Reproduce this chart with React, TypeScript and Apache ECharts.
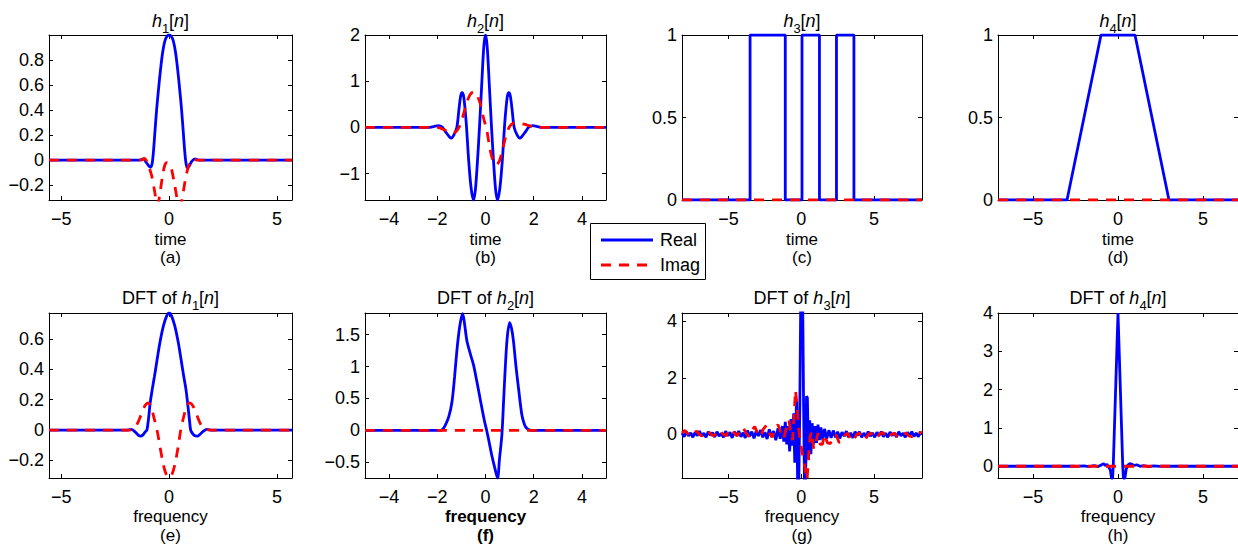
import React, { useEffect, useRef } from "react";
import * as echarts from "echarts";

const FONT = "'Liberation Sans', Arial, Helvetica, sans-serif";
const BLUE = "#0000ff";
const RED = "#ff0000";

// ---------- (a) h1[n] ----------
const h1Re = [[-5.57,0],[-1.4,0],[-1.2,0.01],[-1.05,-0.02],[-0.92,-0.05],[-0.85,-0.055],[-0.78,-0.02],[-0.72,0.08],[-0.66,0.22],[-0.58,0.4],[-0.5,0.55],[-0.4,0.72],[-0.3,0.86],[-0.2,0.95],[-0.1,0.99],[0,1.0],[0.1,0.99],[0.2,0.95],[0.3,0.86],[0.4,0.72],[0.5,0.55],[0.58,0.4],[0.66,0.22],[0.72,0.08],[0.78,-0.02],[0.85,-0.062],[0.92,-0.05],[1.05,-0.01],[1.2,0.01],[1.4,0],[5.7,0]];
const h1Im = [[-5.57,0],[-1.3,0],[-1.15,0.015],[-1.0,-0.02],[-0.9,-0.07],[-0.8,-0.13],[-0.66,-0.26],[-0.56,-0.36],[-0.5,-0.34],[-0.42,-0.26],[-0.3,-0.12],[-0.2,-0.04],[-0.1,-0.02],[0,-0.03],[0.11,-0.07],[0.27,-0.21],[0.4,-0.33],[0.5,-0.37],[0.58,-0.33],[0.66,-0.25],[0.75,-0.16],[0.85,-0.08],[1.0,-0.01],[1.15,0.01],[1.3,0],[5.7,0]];

// ---------- (b) h2[n] ----------
const h2Re = [[-5,0],[-2.35,0],[-2.15,0.02],[-1.95,0.04],[-1.8,0.01],[-1.65,-0.1],[-1.5,-0.2],[-1.42,-0.23],[-1.32,-0.17],[-1.19,0],[-1.1,0.4],[-1.03,0.68],[-0.97,0.75],[-0.9,0.65],[-0.8,0.1],[-0.7,-0.7],[-0.6,-1.3],[-0.5,-1.57],[-0.42,-1.35],[-0.33,-0.7],[-0.25,0],[-0.15,1.0],[-0.07,1.75],[0,2.0],[0.07,1.75],[0.15,1.0],[0.25,0],[0.33,-0.7],[0.42,-1.35],[0.5,-1.57],[0.6,-1.3],[0.7,-0.7],[0.8,0.1],[0.9,0.65],[0.97,0.75],[1.03,0.68],[1.1,0.4],[1.19,0],[1.32,-0.17],[1.42,-0.23],[1.5,-0.2],[1.65,-0.1],[1.8,0.01],[1.95,0.04],[2.15,0.02],[2.35,0],[5,0]];
const h2Im = [[-5,0],[-2.0,0],[-1.75,-0.04],[-1.55,-0.1],[-1.4,-0.12],[-1.25,-0.1],[-1.1,0.0],[-0.95,0.22],[-0.8,0.5],[-0.65,0.7],[-0.5,0.77],[-0.38,0.72],[-0.22,0.52],[-0.08,0.2],[0.05,-0.05],[0.18,-0.45],[0.3,-0.7],[0.45,-0.81],[0.58,-0.72],[0.72,-0.45],[0.85,-0.18],[1.0,0.02],[1.15,0.09],[1.35,0.1],[1.6,0.07],[1.85,0.03],[2.1,0],[5,0]];

// ---------- (c) h3[n] ----------
const h3Re = [[-8.2,0],[-3.52,0],[-3.52,1],[-1.1,1],[-1.1,0],[0.05,0],[0.05,1],[1.25,1],[1.25,0],[2.42,0],[2.42,1],[3.62,1],[3.62,0],[8.3,0]];
const h3Im = [[-8.2,0],[8.3,0]];

// ---------- (d) h4[n] ----------
const h4Re = [[-7.06,0],[-3.0,0],[-1.0,1],[1.0,1],[3.0,0],[7.06,0]];
const h4Im = [[-7.06,0],[7.06,0]];

// ---------- (e) DFT of h1[n] ----------
const d1Re = [[-5.57,0],[-2.0,0],[-1.75,0.004],[-1.55,-0.015],[-1.42,-0.035],[-1.32,-0.04],[-1.2,-0.03],[-1.1,-0.01],[-1.03,0],[-0.95,0.08],[-0.88,0.177],[-0.78,0.27],[-0.68,0.353],[-0.55,0.47],[-0.43,0.574],[-0.27,0.684],[-0.12,0.75],[0,0.772],[0.12,0.75],[0.27,0.684],[0.43,0.574],[0.55,0.47],[0.68,0.353],[0.78,0.27],[0.86,0.177],[0.95,0.06],[1.0,0],[1.1,-0.025],[1.2,-0.038],[1.31,-0.04],[1.42,-0.03],[1.55,-0.012],[1.75,0.004],[2.0,0],[5.7,0]];
const d1Im = [[-5.57,0],[-1.95,0],[-1.7,0.005],[-1.5,0.035],[-1.3,0.1],[-1.12,0.16],[-0.97,0.18],[-0.83,0.15],[-0.7,0.08],[-0.56,0],[-0.42,-0.11],[-0.28,-0.22],[-0.14,-0.29],[0,-0.315],[0.14,-0.29],[0.28,-0.22],[0.42,-0.11],[0.54,0],[0.68,0.09],[0.82,0.16],[0.95,0.18],[1.1,0.16],[1.28,0.1],[1.48,0.035],[1.7,0.005],[1.95,0],[5.7,0]];

// ---------- (f) DFT of h2[n] ----------
const d2Re = [[-5,0],[-1.95,0],[-1.8,0.01],[-1.67,0.08],[-1.52,0.22],[-1.39,0.45],[-1.28,0.85],[-1.19,1.24],[-1.1,1.55],[-1.03,1.72],[-0.95,1.83],[-0.88,1.7],[-0.77,1.4],[-0.63,1.2],[-0.5,1.03],[-0.36,0.77],[-0.25,0.55],[-0.15,0.35],[-0.05,0.16],[0.06,-0.02],[0.16,-0.2],[0.26,-0.39],[0.38,-0.58],[0.5,-0.75],[0.58,-0.45],[0.68,-0.07],[0.75,0.45],[0.82,0.98],[0.9,1.45],[1.0,1.69],[1.08,1.6],[1.16,1.4],[1.26,1.02],[1.37,0.66],[1.51,0.24],[1.62,0.09],[1.72,0.03],[1.85,0.005],[2.0,0],[5,0]];
const d2Im = [[-5,0],[5,0]];

// ---------- (g) DFT of h3[n] ----------
const d3Re = [[-8.2,0.05],[-8.05,-0.08],[-7.9,0.1],[-7.75,-0.05],[-7.6,0.06],[-7.45,-0.1],[-7.3,0.08],[-7.15,-0.04],[-7.0,0.12],[-6.85,-0.06],[-6.7,0.05],[-6.55,-0.1],[-6.4,0.1],[-6.25,-0.03],[-6.1,0.07],[-5.95,-0.09],[-5.8,0.1],[-5.65,-0.06],[-5.5,0.04],[-5.35,-0.1],[-5.2,0.12],[-5.05,-0.05],[-4.9,0.08],[-4.75,-0.12],[-4.6,0.1],[-4.45,-0.04],[-4.3,0.12],[-4.15,-0.08],[-4.0,0.06],[-3.85,-0.12],[-3.7,0.14],[-3.55,-0.06],[-3.4,0.1],[-3.25,-0.14],[-3.1,0.12],[-2.95,-0.05],[-2.8,0.16],[-2.65,-0.1],[-2.5,0.08],[-2.35,-0.16],[-2.2,0.18],[-2.05,-0.08],[-1.9,0.12],[-1.75,-0.2],[-1.6,0.22],[-1.45,-0.15],[-1.3,0.3],[-1.2,-0.25],[-1.1,0.45],[-1.0,-0.35],[-0.9,0.3],[-0.8,-0.6],[-0.7,0.55],[-0.6,-0.4],[-0.52,0.75],[-0.45,-1.0],[-0.38,0.4],[-0.32,1.2],[-0.25,-1.7],[-0.17,-1.7],[-0.1,1.0],[-0.04,4.6],[0.1,4.6],[0.16,1.0],[0.22,-1.7],[0.3,-1.7],[0.36,1.35],[0.42,1.3],[0.5,-0.9],[0.58,0.5],[0.66,-0.7],[0.75,0.4],[0.85,-0.35],[0.95,0.3],[1.05,-0.3],[1.15,0.35],[1.25,-0.2],[1.35,0.25],[1.48,-0.2],[1.6,0.2],[1.75,-0.15],[1.9,0.15],[2.05,-0.12],[2.2,0.14],[2.35,-0.1],[2.5,0.1],[2.65,-0.14],[2.8,0.08],[2.95,-0.06],[3.1,0.12],[3.25,-0.1],[3.4,0.06],[3.55,-0.12],[3.7,0.1],[3.85,-0.04],[4.0,0.1],[4.15,-0.1],[4.3,0.05],[4.45,-0.08],[4.6,0.1],[4.75,-0.06],[4.9,0.06],[5.05,-0.1],[5.2,0.08],[5.35,-0.04],[5.5,0.1],[5.65,-0.08],[5.8,0.05],[5.95,-0.1],[6.1,0.09],[6.25,-0.04],[6.4,0.06],[6.55,-0.09],[6.7,0.1],[6.85,-0.05],[7.0,0.05],[7.15,-0.1],[7.3,0.08],[7.45,-0.04],[7.6,0.1],[7.75,-0.07],[7.9,0.05],[8.05,-0.08],[8.2,0.08],[8.3,0.0]];
const d3Im = [[-8.2,0.05],[-8.0,0.15],[-7.8,0.02],[-7.6,-0.05],[-7.4,0.05],[-7.2,0.12],[-7.0,0.0],[-6.8,-0.05],[-6.6,0.08],[-6.4,0.12],[-6.2,0.0],[-6.0,-0.05],[-5.8,0.1],[-5.6,0.15],[-5.4,0.02],[-5.2,-0.05],[-5.0,0.12],[-4.8,0.2],[-4.6,0.05],[-4.4,-0.05],[-4.2,0.15],[-4.0,0.25],[-3.8,0.05],[-3.6,-0.08],[-3.4,0.15],[-3.2,0.28],[-3.0,0.05],[-2.8,-0.08],[-2.6,0.2],[-2.4,0.32],[-2.2,0.05],[-2.0,-0.1],[-1.8,0.2],[-1.6,0.35],[-1.4,0.05],[-1.2,-0.15],[-1.0,0.3],[-0.85,0.5],[-0.7,0.0],[-0.6,-0.2],[-0.5,0.6],[-0.4,1.57],[-0.32,1.2],[-0.2,0.3],[-0.08,-0.2],[0.05,-0.6],[0.2,-1.0],[0.3,-1.3],[0.4,-1.6],[0.5,-0.8],[0.6,-0.1],[0.7,0.1],[0.85,-0.5],[1.0,-0.3],[1.15,0.05],[1.3,-0.35],[1.45,-0.35],[1.6,0.0],[1.8,-0.3],[2.0,-0.32],[2.2,-0.05],[2.4,-0.02],[2.6,-0.28],[2.8,-0.25],[3.0,-0.02],[3.2,0.05],[3.4,-0.22],[3.6,-0.2],[3.8,0.0],[4.0,0.05],[4.2,-0.15],[4.4,-0.18],[4.6,0.0],[4.8,0.05],[5.0,-0.12],[5.2,-0.12],[5.4,0.02],[5.6,0.08],[5.8,-0.1],[6.0,-0.12],[6.2,0.0],[6.4,0.05],[6.6,-0.08],[6.8,-0.1],[7.0,0.0],[7.2,0.05],[7.4,-0.05],[7.6,-0.08],[7.8,0.02],[8.0,0.1],[8.3,0.05]];

// ---------- (h) DFT of h4[n] ----------
const d4Re = [[-7.06,0],[-2.5,0],[-2.0,0.01],[-1.7,-0.01],[-1.4,0.02],[-1.2,-0.01],[-1.0,0.03],[-0.85,0.07],[-0.75,0.02],[-0.65,0.05],[-0.55,-0.02],[-0.45,-0.1],[-0.38,-0.32],[-0.32,-0.32],[-0.28,0],[0,4.0],[0.28,0],[0.32,-0.32],[0.4,-0.32],[0.48,-0.08],[0.58,0.03],[0.7,0.07],[0.82,0.05],[0.95,0.02],[1.1,0.04],[1.3,0.0],[1.5,0.02],[1.8,-0.01],[2.1,0.01],[2.5,0],[7.06,0]];
const d4Im = [[-7.06,0],[7.06,0]];

// ---------- tick values ----------
const xTicksA = [-5, 0, 5];
const yTicksA = [-0.2, 0, 0.2, 0.4, 0.6, 0.8];
const xTicksB = [-4, -2, 0, 2, 4];
const yTicksB = [-1, 0, 1, 2];
const xTicksC = [-5, 0, 5];
const yTicksC = [0, 0.5, 1];
const xTicksD = [-5, 0, 5];
const yTicksD = [0, 0.5, 1];
const xTicksE = [-5, 0, 5];
const yTicksE = [-0.2, 0, 0.2, 0.4, 0.6];
const xTicksF = [-4, -2, 0, 2, 4];
const yTicksF = [-0.5, 0, 0.5, 1, 1.5];
const xTicksG = [-5, 0, 5];
const yTicksG = [0, 2, 4];
const xTicksH = [-5, 0, 5];
const yTicksH = [0, 1, 2, 3, 4];

const titlesTop = ["1", "2", "3", "4"];
const letters = ["(a)", "(b)", "(c)", "(d)", "(e)", "(f)", "(g)", "(h)"];

// layout (pixels)
const COLS = [
  { left: 49, width: 243 },
  { left: 365, width: 241 },
  { left: 682, width: 240 },
  { left: 998, width: 240 },
];
const ROWS = [
  { top: 35, height: 165 },
  { top: 313, height: 165 },
];

const panels = [
  { re: h1Re, im: h1Im, x: [-5.57, 5.7], y: [-0.318, 1.0], xt: xTicksA, yt: yTicksA, smooth: 0.3 },
  { re: h2Re, im: h2Im, x: [-5, 5], y: [-1.57, 2.0], xt: xTicksB, yt: yTicksB, smooth: 0.3 },
  { re: h3Re, im: h3Im, x: [-8.2, 8.3], y: [0, 1], xt: xTicksC, yt: yTicksC, smooth: false },
  { re: h4Re, im: h4Im, x: [-7.06, 7.06], y: [0, 1], xt: xTicksD, yt: yTicksD, smooth: false },
  { re: d1Re, im: d1Im, x: [-5.57, 5.7], y: [-0.316, 0.772], xt: xTicksE, yt: yTicksE, smooth: 0.3 },
  { re: d2Re, im: d2Im, x: [-5, 5], y: [-0.746, 1.84], xt: xTicksF, yt: yTicksF, smooth: 0.3 },
  { re: d3Re, im: d3Im, x: [-8.2, 8.3], y: [-1.54, 4.3], xt: xTicksG, yt: yTicksG, smooth: false },
  { re: d4Re, im: d4Im, x: [-7.06, 7.06], y: [-0.306, 4.0], xt: xTicksH, yt: yTicksH, smooth: false },
];

const fmt = (v: number) => {
  const s = String(Math.round(v * 1000) / 1000);
  return s.replace("-", "\u2212");
};

function buildOption() {
  const grid: any[] = [];
  const xAxis: any[] = [];
  const yAxis: any[] = [];
  const series: any[] = [];
  const graphic: any[] = [];
  const FS = 17;   // axis labels
  const TS = 18;   // ticks, titles, legend
  const axisLine = { show: true, onZero: false, lineStyle: { color: "#000", width: 1 } };
  const rich = {
    i: { fontStyle: "italic", fontSize: TS, fontFamily: FONT, lineHeight: 21, fill: "#000", color: "#000" },
    s: { fontSize: 13, fontFamily: FONT, lineHeight: 13, padding: [15, 0, 0, 0], fill: "#000", color: "#000" },
    r: { fontSize: TS, fontFamily: FONT, lineHeight: 21, fill: "#000", color: "#000" },
  };

  panels.forEach((p, k) => {
    const col = COLS[k % 4];
    const row = ROWS[Math.floor(k / 4)];
    grid.push({
      left: col.left, top: row.top, width: col.width, height: row.height,
      containLabel: false, outerBoundsMode: "none", show: true,
      backgroundColor: "#fff", borderWidth: 0,
    });
    const base = { gridIndex: k, type: "value", min: p.x[0], max: p.x[1], splitLine: { show: false }, axisLine };
    xAxis.push({
      ...base, position: "bottom",
      axisTick: { show: true, inside: true, length: 4, customValues: p.xt, lineStyle: { color: "#000" } },
      axisLabel: { show: true, customValues: p.xt, formatter: fmt, color: "#000", fontSize: TS, fontFamily: FONT, margin: 10 },
    });
    xAxis.push({
      ...base, position: "top",
      axisTick: { show: true, inside: true, length: 4, customValues: p.xt, lineStyle: { color: "#000" } },
      axisLabel: { show: false },
    });
    const ybase = { gridIndex: k, type: "value", min: p.y[0], max: p.y[1], splitLine: { show: false }, axisLine };
    yAxis.push({
      ...ybase, position: "left",
      axisTick: { show: true, inside: true, length: 4, customValues: p.yt, lineStyle: { color: "#000" } },
      axisLabel: { show: true, customValues: p.yt, formatter: fmt, color: "#000", fontSize: TS, fontFamily: FONT, margin: 5 },
    });
    yAxis.push({
      ...ybase, position: "right",
      axisTick: { show: true, inside: true, length: 4, customValues: p.yt, lineStyle: { color: "#000" } },
      axisLabel: { show: false },
    });
    series.push({
      name: "Real", type: "line", xAxisIndex: 2 * k, yAxisIndex: 2 * k, data: p.re,
      symbol: "none", showSymbol: false, smooth: p.smooth, clip: true,
      lineStyle: { color: BLUE, width: 2.8 }, z: 2,
    });
    series.push({
      name: "Imag", type: "line", xAxisIndex: 2 * k, yAxisIndex: 2 * k, data: p.im,
      symbol: "none", showSymbol: false, smooth: p.smooth, clip: true,
      lineStyle: { color: RED, width: 2.8, type: [10, 8] }, z: 3,
    });

    const cx = col.left + col.width / 2;
    const topRow = k < 4;
    const idx = titlesTop[k % 4];
    graphic.push({
      type: "text", x: cx, y: topRow ? 21 : 298, z: 10,
      style: {
        text: (topRow ? "" : "{r|DFT of }") + `{i|h}{s|${idx}}{r|[}{i|n}{r|]}`,
        rich, fontSize: TS, fontFamily: FONT, fill: "#000",
        align: "center", verticalAlign: "middle",
      },
    });
    const boldF = k === 5;
    graphic.push({
      type: "text", x: cx, y: topRow ? 239 : 516, z: 10,
      style: {
        text: topRow ? "time" : "frequency", fontSize: FS, fontFamily: FONT,
        fontWeight: boldF ? "bold" : "normal", fill: "#000", align: "center", verticalAlign: "middle",
      },
    });
    graphic.push({
      type: "text", x: cx, y: topRow ? 257 : 535, z: 10,
      style: {
        text: letters[k], fontSize: FS, fontFamily: FONT, fontWeight: boldF ? "bold" : "normal",
        fill: "#000", align: "center", verticalAlign: "middle",
      },
    });
  });

  // legend box
  graphic.push({
    type: "rect", z: 20, shape: { x: 590.5, y: 223.5, width: 115, height: 56 },
    style: { fill: "#fff", stroke: "#000", lineWidth: 1 },
  });
  graphic.push({
    type: "line", z: 21, shape: { x1: 601, y1: 240, x2: 653, y2: 240 },
    style: { stroke: BLUE, lineWidth: 2.8 },
  });
  graphic.push({
    type: "line", z: 21, shape: { x1: 601, y1: 265, x2: 653, y2: 265 },
    style: { stroke: RED, lineWidth: 2.8, lineDash: [10, 8] },
  });
  graphic.push({
    type: "text", z: 21, x: 660, y: 240,
    style: { text: "Real", fontSize: TS, fontFamily: FONT, fill: "#000", align: "left", verticalAlign: "middle" },
  });
  graphic.push({
    type: "text", z: 21, x: 660, y: 265,
    style: { text: "Imag", fontSize: TS, fontFamily: FONT, fill: "#000", align: "left", verticalAlign: "middle" },
  });

  return {
    animation: false,
    backgroundColor: "#fff",
    grid, xAxis, yAxis, series, graphic,
  };
}

export default function App() {
  const ref = useRef<HTMLDivElement>(null);
  useEffect(() => {
    if (!ref.current) return;
    const chart = echarts.init(ref.current, undefined, { renderer: "svg" });
    chart.setOption(buildOption() as any);
    return () => chart.dispose();
  }, []);
  return (
    <div
      ref={ref}
      style={{ position: "fixed", left: 0, top: 0, width: 1238, height: 550, background: "#fff" }}
    />
  );
}
